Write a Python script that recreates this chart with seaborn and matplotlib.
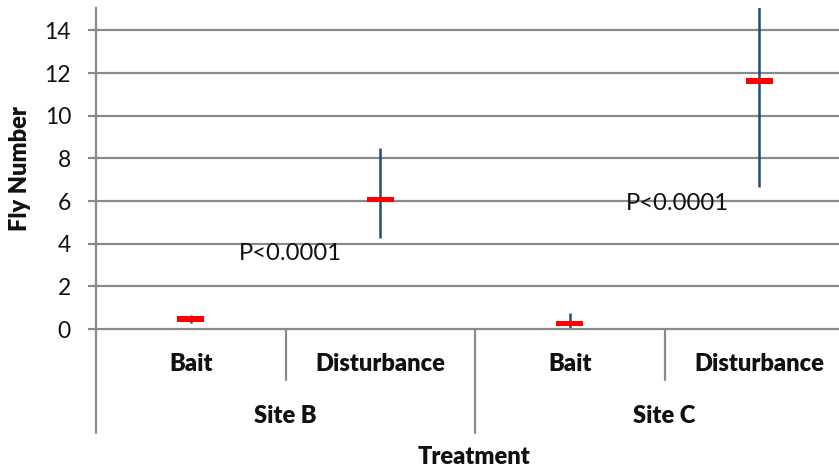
import numpy as np
import pandas as pd
import matplotlib
matplotlib.use("Agg")
import matplotlib.pyplot as plt
import seaborn as sns
from matplotlib.transforms import blended_transform_factory

# ---- data ----
sites = ["Site B", "Site B", "Site C", "Site C"]
treatments = ["Bait", "Disturbance", "Bait", "Disturbance"]
means = [0.47, 6.09, 0.25, 11.63]
lower = [0.27, 4.27, 0.0, 6.65]
upper = [0.66, 8.49, 0.73, 15.2]
p_labels = ["P<0.0001", "P<0.0001"]
yticks = [0, 2, 4, 6, 8, 10, 12, 14]

df = pd.DataFrame({
    "group": [f"{s} {t}" for s, t in zip(sites, treatments)],
    "site": sites, "treatment": treatments,
    "mean": means, "lo": lower, "hi": upper,
})

sns.set_theme(style="white")
plt.rcParams["font.family"] = ["Lato", "DejaVu Sans"]

W, H = 839, 471
fig = plt.figure(figsize=(W / 100, H / 100), dpi=100)
ax_left, ax_right, ax_top, ax_bot = 96, 839, 8, 329
ax = fig.add_axes([ax_left / W, 1 - ax_bot / H, (ax_right - ax_left) / W, (ax_bot - ax_top) / H])

grid_c = "#8a8a8a"
bar_c = "#1f4e79"
txt_c = "#111111"
BOLD = 17

ax.set_xlim(-0.5, 3.42)
ax.set_ylim(0, 15.05)

# grid lines
for yv in yticks[1:]:
    ax.axhline(yv, color=grid_c, lw=1.6, zorder=0)

# error bars
ax.vlines(np.arange(len(df)), df["lo"], df["hi"], color=bar_c, lw=1.8, zorder=2)

# mean markers (red horizontal bars)
rect = [(-1, -0.19), (1, -0.19), (1, 0.19), (-1, 0.19), (-1, -0.19)]
sns.scatterplot(data=df, x="group", y="mean", marker=rect, s=380, color="#ff0000",
                edgecolor="none", linewidth=0, ax=ax, zorder=3, legend=False)

# p-value annotations
ax.text(0.524, 3.56, p_labels[0], ha="center", va="center", fontsize=17.2, color=txt_c)
ax.text(2.566, 5.9, p_labels[1], ha="center", va="center", fontsize=17.2, color=txt_c)

# axes styling
for sp in ["top", "right"]:
    ax.spines[sp].set_visible(False)
for sp in ["left", "bottom"]:
    ax.spines[sp].set_color(grid_c)
    ax.spines[sp].set_linewidth(1.6)
ax.set_yticks(yticks)
ax.set_yticklabels([str(v) for v in yticks], fontsize=16.5, color=txt_c)
ax.tick_params(axis="y", which="major", length=6, width=1.6, color=grid_c, pad=12, left=True)
ax.set_xticks([])
ax.set_xlabel("")
ax.set_ylabel("Fly Number", fontsize=BOLD, fontweight="heavy", color=txt_c, labelpad=10)

# hierarchical category axis
tr = blended_transform_factory(ax.transData, ax.transAxes)
axh = ax_bot - ax_top
short_y = -(380 - ax_bot) / axh
long_y = -(433 - ax_bot) / axh
cat_y = -(364 - ax_bot) / axh
site_y = -(416 - ax_bot) / axh
for i, t in enumerate(treatments):
    ax.text(i, cat_y, t, transform=tr, ha="center", va="center", fontsize=BOLD,
            fontweight="heavy", color=txt_c)
for xb in [0.5, 2.5]:
    ax.plot([xb, xb], [0, short_y], transform=tr, color=grid_c, lw=1.6, clip_on=False)
for xb in [-0.5, 1.5]:
    ax.plot([xb, xb], [0, long_y], transform=tr, color=grid_c, lw=1.6, clip_on=False)
site_names = []
for s in sites:
    if s not in site_names:
        site_names.append(s)
for j, s in enumerate(site_names):
    ax.text(2 * j + 0.5, site_y, s, transform=tr, ha="center", va="center", fontsize=BOLD,
            fontweight="heavy", color=txt_c)

fig.text(474.5 / W, 1 - 457 / H, "Treatment", ha="center", va="center", fontsize=BOLD,
         fontweight="heavy", color=txt_c)

fig.savefig("out.png", dpi=100)
